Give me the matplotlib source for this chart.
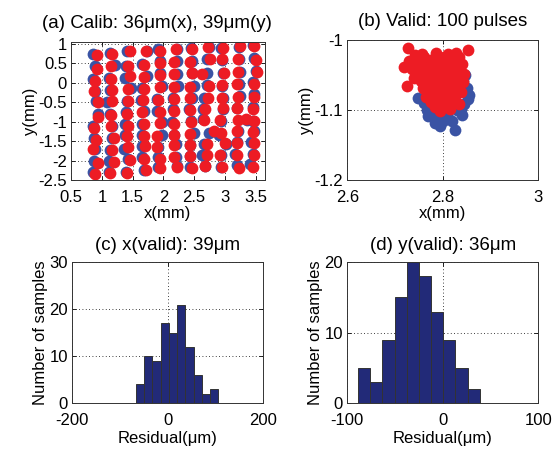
import numpy as np
import matplotlib
matplotlib.use('Agg')
import matplotlib.pyplot as plt
from matplotlib.ticker import FormatStrFormatter

plt.rcParams['font.family'] = ['Liberation Sans', 'DejaVu Sans']
plt.rcParams['axes.unicode_minus'] = False
plt.rcParams['font.size'] = 12

# (a) calibration grid: blue = true position, red = estimate
calib_blue_x = [0.86, 0.89, 0.86, 0.89, 0.91, 0.93, 0.86, 0.88, 0.89, 0.88, 0.86,
                1.14, 1.22, 1.11, 1.14, 1.08, 1.14, 1.16, 1.16, 1.14, 1.11, 1.11,
                1.41, 1.40, 1.38, 1.47, 1.41, 1.40, 1.38, 1.38, 1.36, 1.43, 1.40,
                1.73, 1.65, 1.73, 1.65, 1.63, 1.68, 1.65, 1.65, 1.65, 1.65, 1.69,
                1.92, 1.95, 1.94, 1.98, 1.90, 1.90, 1.98, 1.98, 1.92, 1.92, 1.92,
                2.22, 2.22, 2.22, 2.23, 2.16, 2.16, 2.14, 2.17, 2.20, 2.20, 2.22,
                2.45, 2.47, 2.47, 2.49, 2.47, 2.41, 2.45, 2.49, 2.43, 2.43, 2.44,
                2.74, 2.71, 2.71, 2.71, 2.66, 2.65, 2.65, 2.74, 2.66, 2.63, 2.67,
                2.93, 2.96, 2.97, 2.96, 2.97, 2.97, 2.94, 2.90, 3.01, 2.93, 2.93,
                3.23, 3.23, 3.24, 3.23, 3.24, 3.19, 3.36, 3.21, 3.19, 3.17, 3.19,
                3.45, 3.47, 3.50, 3.45, 3.48, 3.45, 3.45, 3.47, 3.42, 3.45, 3.41]
calib_blue_y = [0.73, 0.43, 0.09, -0.21, -0.46, -0.80, -1.12, -1.41, -1.69, -2.01, -2.29,
                0.77, 0.45, 0.12, -0.19, -0.50, -0.80, -1.10, -1.41, -1.72, -2.02, -2.29,
                0.81, 0.43, 0.13, -0.14, -0.46, -0.76, -1.07, -1.35, -1.69, -1.95, -2.29,
                0.81, 0.49, 0.18, -0.14, -0.44, -0.73, -1.06, -1.35, -1.63, -1.92, -2.23,
                0.86, 0.56, 0.24, -0.08, -0.42, -0.72, -1.01, -1.35, -1.65, -1.91, -2.16,
                0.88, 0.56, 0.22, -0.08, -0.39, -0.67, -1.01, -1.35, -1.58, -1.91, -2.14,
                0.90, 0.56, 0.26, -0.08, -0.38, -0.67, -0.99, -1.29, -1.59, -1.88, -2.16,
                0.92, 0.60, 0.26, -0.05, -0.38, -0.67, -0.93, -1.29, -1.57, -1.86, -2.14,
                0.90, 0.58, 0.26, -0.08, -0.38, -0.67, -0.97, -1.35, -1.57, -1.86, -2.16,
                0.92, 0.60, 0.29, -0.02, -0.33, -0.65, -0.95, -1.24, -1.52, -1.82, -2.12,
                0.98, 0.64, 0.30, 0.01, -0.29, -0.63, -0.97, -1.24, -1.52, -1.82, -2.08]
calib_red_x = [0.92, 0.92, 0.89, 0.88, 0.93, 0.93, 0.88, 0.91, 0.85, 0.93, 0.89,
               1.16, 1.15, 1.15, 1.16, 1.17, 1.15, 1.15, 1.19, 1.17, 1.19, 1.14,
               1.45, 1.43, 1.46, 1.43, 1.42, 1.41, 1.42, 1.41, 1.42, 1.46, 1.41,
               1.71, 1.68, 1.68, 1.68, 1.67, 1.66, 1.68, 1.68, 1.70, 1.68, 1.72,
               1.95, 1.95, 1.94, 1.94, 1.92, 1.94, 1.94, 1.90, 1.90, 1.95, 1.95,
               2.20, 2.18, 2.18, 2.17, 2.17, 2.18, 2.17, 2.17, 2.17, 2.17, 2.22,
               2.47, 2.44, 2.47, 2.44, 2.44, 2.44, 2.45, 2.44, 2.44, 2.44, 2.47,
               2.72, 2.76, 2.63, 2.74, 2.72, 2.68, 2.66, 2.82, 2.71, 2.71, 2.68,
               2.97, 2.96, 2.98, 2.96, 2.96, 2.97, 2.92, 3.00, 2.92, 2.96, 2.94,
               3.24, 3.21, 3.21, 3.20, 3.21, 3.20, 3.21, 3.20, 3.20, 3.20, 3.23, 3.34,
               3.47, 3.50, 3.52, 3.47, 3.47, 3.46, 3.47, 3.46, 3.48, 3.47, 3.46]
calib_red_y = [0.71, 0.35, 0.05, -0.22, -0.50, -0.87, -1.17, -1.46, -1.69, -2.05, -2.35,
               0.75, 0.43, 0.11, -0.19, -0.48, -0.82, -1.12, -1.42, -1.74, -2.03, -2.31,
               0.81, 0.43, 0.18, -0.16, -0.46, -0.80, -1.12, -1.38, -1.65, -1.99, -2.33,
               0.81, 0.47, 0.15, -0.16, -0.44, -0.76, -1.07, -1.38, -1.63, -1.95, -2.23,
               0.83, 0.52, 0.20, -0.10, -0.44, -0.76, -1.04, -1.38, -1.65, -1.95, -2.20,
               0.86, 0.54, 0.22, -0.10, -0.42, -0.72, -1.06, -1.33, -1.61, -1.91, -2.16,
               0.87, 0.53, 0.24, -0.10, -0.38, -0.70, -1.01, -1.31, -1.61, -1.88, -2.19,
               0.92, 0.60, 0.22, -0.08, -0.38, -0.67, -0.95, -1.23, -1.57, -1.86, -2.14,
               0.90, 0.60, 0.26, -0.05, -0.38, -0.65, -0.95, -1.55, -1.85, -2.16, -1.30,
               0.94, 0.60, 0.29, -0.04, -0.36, -0.65, -0.95, -1.24, -1.54, -1.86, -2.18, -0.93,
               0.94, 0.58, 0.29, -0.04, -0.36, -0.67, -0.97, -1.27, -1.55, -1.86, -2.16]

# (b) validation: 100 pulses at one spot
valid_blue_x = [2.748, 2.767, 2.795, 2.825, 2.853, 2.847, 2.840, 2.777, 2.812, 2.790,
                2.830, 2.850, 2.845, 2.760, 2.800, 2.820, 2.835, 2.805, 2.785, 2.815,
                2.770, 2.790, 2.810, 2.775, 2.855, 2.842, 2.783, 2.805, 2.838, 2.770]
valid_blue_y = [-1.083, -1.100, -1.123, -1.128, -1.084, -1.050, -1.107, -1.109, -1.111, -1.105,
                -1.100, -1.068, -1.092, -1.090, -1.115, -1.115, -1.060, -1.080, -1.075, -1.065,
                -1.060, -1.040, -1.030, -1.035, -1.078, -1.058, -1.118, -1.105, -1.098, -1.108]
valid_red_x = [2.727, 2.852, 2.720, 2.725, 2.795, 2.745, 2.760, 2.775, 2.790, 2.805,
               2.820, 2.835, 2.840, 2.735, 2.750, 2.765, 2.780, 2.795, 2.810, 2.825,
               2.845, 2.755, 2.770, 2.785, 2.800, 2.815, 2.830, 2.842, 2.765, 2.780,
               2.795, 2.808, 2.822, 2.838, 2.775, 2.790, 2.805, 2.820, 2.835, 2.800,
               2.815, 2.783, 2.740, 2.730, 2.752, 2.768, 2.782, 2.798, 2.812, 2.828,
               2.758, 2.772, 2.788, 2.802, 2.818, 2.833, 2.778, 2.792, 2.808, 2.825,
               2.742, 2.757, 2.785, 2.812, 2.828, 2.798, 2.765, 2.745, 2.803, 2.793]
valid_red_y = [-1.012, -1.014, -1.038, -1.066, -1.102, -1.030, -1.025, -1.028, -1.025, -1.030,
               -1.028, -1.024, -1.035, -1.042, -1.045, -1.040, -1.045, -1.040, -1.045, -1.042,
               -1.048, -1.058, -1.060, -1.055, -1.060, -1.058, -1.062, -1.060, -1.072, -1.075,
               -1.070, -1.075, -1.072, -1.075, -1.088, -1.085, -1.090, -1.088, -1.092, -1.095,
               -1.098, -1.095, -1.055, -1.030, -1.035, -1.050, -1.035, -1.050, -1.035, -1.050,
               -1.068, -1.066, -1.065, -1.068, -1.066, -1.052, -1.080, -1.078, -1.082, -1.080,
               -1.022, -1.020, -1.018, -1.020, -1.018, -1.082, -1.082, -1.048, -1.025, -1.090]

# (c) x residual histogram
resx_centers = [-58.4, -40.7, -23.7, -6.0, 11.1, 28.2, 45.9, 63.3, 80.4, 97.4]
resx_counts = [4, 10, 9, 17, 15, 21, 12, 6, 2, 3]
# (d) y residual histogram
resy_centers = [-82.1, -69.4, -56.7, -44.0, -31.2, -18.5, -5.8, 7.0, 19.7, 32.4]
resy_counts = [5, 3, 9, 15, 20, 18, 13, 9, 5, 2]

red = '#ed1c24'
blue = '#3a53a4'
navy = '#222a78'

fig = plt.figure(figsize=(5.6, 4.49), dpi=100)
ax_a = fig.add_axes([0.127, 0.599, 0.346, 0.3075])
ax_b = fig.add_axes([0.620, 0.599, 0.341, 0.312])
ax_c = fig.add_axes([0.129, 0.102, 0.341, 0.314])
ax_d = fig.add_axes([0.620, 0.102, 0.341, 0.314])


def style(ax):
    ax.grid(True, linestyle=(0, (1, 3)), color='black', linewidth=0.6)
    ax.set_axisbelow(True)
    ax.tick_params(direction='in', top=True, right=True, length=3, width=0.6, labelsize=12)
    ax.tick_params(axis='x', pad=7)
    ax.tick_params(axis='y', pad=3)
    for s in ax.spines.values():
        s.set_linewidth(0.7)
        s.set_color('#333333')
    ax.xaxis.set_major_formatter(FormatStrFormatter('%g'))
    ax.yaxis.set_major_formatter(FormatStrFormatter('%g'))


ax_a.scatter(calib_blue_x, calib_blue_y, s=72, color=blue, linewidths=0)
ax_a.scatter(calib_red_x, calib_red_y, s=72, color=red, linewidths=0)
ax_a.set_xlim(0.5, 3.65)
ax_a.set_ylim(-2.5, 1.05)
ax_a.set_xticks(np.arange(0.5, 3.51, 0.5))
ax_a.set_yticks(np.arange(-2.5, 1.01, 0.5))
ax_a.set_xlabel('x(mm)', labelpad=1)
ax_a.set_ylabel('y(mm)', labelpad=0)
ax_a.set_title('(a) Calib: 36μm(x), 39μm(y)', fontsize=13.5, pad=10, x=0.445)
style(ax_a)

ax_b.scatter(valid_blue_x, valid_blue_y, s=72, color=blue, linewidths=0)
ax_b.scatter(valid_red_x, valid_red_y, s=72, color=red, linewidths=0)
ax_b.set_xlim(2.6, 3.0)
ax_b.set_ylim(-1.2, -1.0)
ax_b.set_xticks([2.6, 2.8, 3.0])
ax_b.set_yticks([-1.2, -1.1, -1.0])
ax_b.set_xlabel('x(mm)', labelpad=1)
ax_b.set_ylabel('y(mm)', labelpad=0)
ax_b.set_title('(b) Valid: 100 pulses', fontsize=13.5, pad=10)
style(ax_b)

ax_c.bar(resx_centers, resx_counts, width=17.4, color=navy, edgecolor='#333333', linewidth=0.7)
ax_c.set_xlim(-200, 200)
ax_c.set_ylim(0, 30)
ax_c.set_xticks([-200, 0, 200])
ax_c.set_yticks([0, 10, 20, 30])
ax_c.set_xlabel('Residual(μm)', labelpad=2)
ax_c.set_ylabel('Number of samples', labelpad=1)
ax_c.set_title('(c) x(valid): 39μm', fontsize=13.5, pad=9)
style(ax_c)

ax_d.bar(resy_centers, resy_counts, width=12.7, color=navy, edgecolor='#333333', linewidth=0.7)
ax_d.set_xlim(-100, 100)
ax_d.set_ylim(0, 20)
ax_d.set_xticks([-100, 0, 100])
ax_d.set_yticks([0, 10, 20])
ax_d.set_xlabel('Residual(μm)', labelpad=2)
ax_d.set_ylabel('Number of samples', labelpad=1)
ax_d.set_title('(d) y(valid): 36μm', fontsize=13.5, pad=9)
style(ax_d)

fig.savefig('out.png', dpi=100)
